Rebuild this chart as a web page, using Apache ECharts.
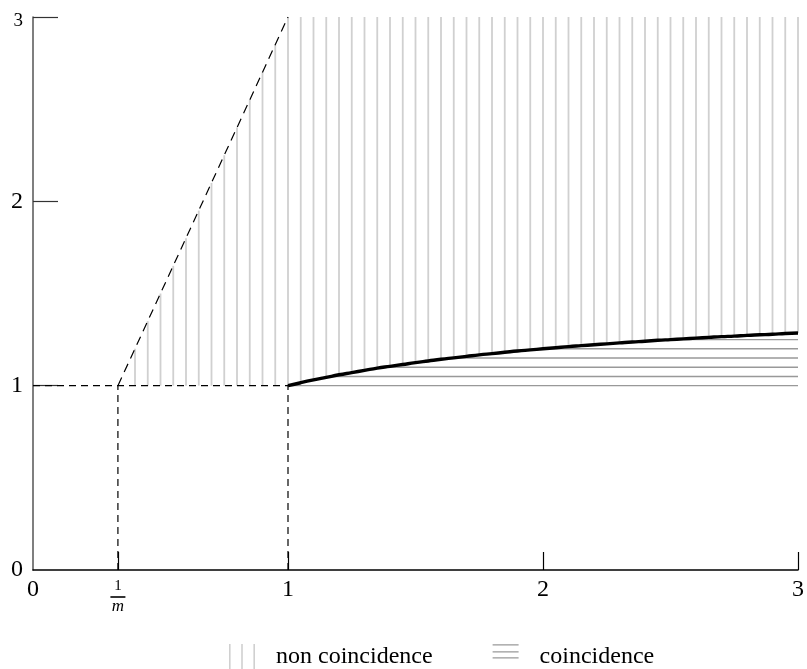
<!DOCTYPE html>
<html>
<head>
<meta charset="utf-8">
<script src="https://cdn.jsdelivr.net/npm/echarts@6/dist/echarts.min.js"></script>
<style>html,body{margin:0;padding:0;background:#fff}#c{width:807px;height:669px}</style>
</head>
<body>
<div id="c"></div>
<script>
// ---- data ----
const slopeX   = [0.40,0.45,0.50,0.55,0.60,0.65,0.70,0.75,0.80,0.85,0.90,0.95];
const slopeTop = [1.20,1.35,1.50,1.65,1.80,1.95,2.10,2.25,2.40,2.55,2.70,2.85];
const curveX = [1.00,1.05,1.10,1.15,1.20,1.25,1.30,1.35,1.40,1.45,1.50,1.55,1.60,1.65,1.70,1.75,1.80,1.85,1.90,1.95,2.00,
                2.05,2.10,2.15,2.20,2.25,2.30,2.35,2.40,2.45,2.50,2.55,2.60,2.65,2.70,2.75,2.80,2.85,2.90,2.95,3.00];
const curveY = [1.000,1.016,1.031,1.045,1.059,1.071,1.083,1.095,1.105,1.115,1.125,1.134,1.143,1.151,1.159,1.167,1.174,1.181,1.188,1.194,1.200,
                1.206,1.212,1.217,1.222,1.227,1.232,1.237,1.241,1.246,1.250,1.254,1.258,1.262,1.266,1.269,1.273,1.276,1.279,1.283,1.286];
const topY = 3;
const coincY     = [1.00,1.05,1.10,1.15,1.20,1.25];
const coincStart = [1.000,1.167,1.375,1.643,2.000,2.500];
const coincEnd = 3;
const invM = 0.333;
const guideH    = [[0,1],[1,1]];
const guideV1   = [[invM,0],[invM,1]];
const guideV2   = [[1,0],[1,1]];
const guideDiag = [[invM,1],[1,3]];
const xTickVals  = [invM,1,2,3];
const xLabelVals = [0,invM,1,2,3];
const yTickVals  = [1,2,3];
const yLabelVals = [0,1,2,3];
const legendNames = ['non coincidence','coincidence'];

// ---- build series data ----
const hatchData = [];
slopeX.forEach((x,i)=>hatchData.push([x,1,slopeTop[i]]));
curveX.forEach((x,i)=>hatchData.push([x,curveY[i],topY]));
const coincData = coincY.map((y,i)=>[coincStart[i],coincEnd,y]);
const curveData = curveX.map((x,i)=>[x,curveY[i]]);

const FONT = '"Liberation Serif", "DejaVu Serif", serif';
const chart = echarts.init(document.getElementById('c'));

function guide(data, dash){
  return {type:'line', data:data, symbol:'none', silent:true, z:3,
          lineStyle:{color:'#000', width:1.2, type:dash}, animation:false};
}

chart.setOption({
  animation:false,
  backgroundColor:'#fff',
  grid:{left:33,right:8,top:17,bottom:99,containLabel:false},
  xAxis:{
    type:'value', min:0, max:3,
    splitLine:{show:false},
    axisLine:{show:true, onZero:false, lineStyle:{color:'#000',width:1.5}},
    axisTick:{show:true, inside:true, length:18, customValues:xTickVals, lineStyle:{color:'#000',width:1.2}},
    axisLabel:{
      show:true, customValues:xLabelVals, margin:8,
      fontFamily:FONT, fontSize:24, color:'#000',
      formatter:function(v){
        if (Math.abs(v-invM)<1e-6) return '{n|1}\n{bar|}\n{d|m}';
        return String(Math.round(v));
      },
      rich:{
        n:{fontFamily:FONT,fontSize:15,lineHeight:17,color:'#000',align:'center'},
        bar:{width:15,height:1.6,lineHeight:4,backgroundColor:'#000',align:'center'},
        d:{fontFamily:FONT,fontSize:17,fontStyle:'italic',lineHeight:16,color:'#000',align:'center'}
      }
    }
  },
  yAxis:{
    type:'value', min:0, max:3,
    splitLine:{show:false},
    axisLine:{show:true, onZero:false, lineStyle:{color:'#555',width:1.5}},
    axisTick:{show:true, inside:true, length:25, customValues:yTickVals, lineStyle:{color:'#333',width:1.2}},
    axisLabel:{
      show:true, customValues:yLabelVals, margin:10,
      fontFamily:FONT, fontSize:24, color:'#000',
      formatter:function(v){ return v===3 ? '{s|3}' : String(v); },
      rich:{ s:{fontFamily:FONT,fontSize:19,color:'#000',padding:[8,0,0,0]} }
    }
  },
  legend:{
    show:true, data:[
      {name:legendNames[0], icon:'path://M0,0h1.6v26h-1.6z M12.2,0h1.6v26h-1.6z M24.4,0h1.6v26h-1.6z'},
      {name:legendNames[1], icon:'path://M0,0.4h26v1.3h-26z M0,7.4h26v1.3h-26z M0,13.4h26v1.3h-26z M25.99,25.99h0.01v0.01h-0.01z'}
    ],
    left:224, top:639, orient:'horizontal',
    itemWidth:26, itemHeight:26, itemGap:60, selectedMode:false,
    textStyle:{fontFamily:FONT,fontSize:24,color:'#000',padding:[0,0,0,16]}
  },
  series:[
    {
      name:legendNames[0], type:'custom', z:1, silent:true,
      itemStyle:{color:'#d0d0d0'},
      encode:{x:0,y:[1,2]},
      data:hatchData,
      renderItem:function(params,api){
        const p0 = api.coord([api.value(0),api.value(1)]);
        const p1 = api.coord([api.value(0),api.value(2)]);
        return {type:'line', shape:{x1:p0[0],y1:p0[1],x2:p1[0],y2:p1[1]},
                style:{stroke:'#d0d0d0',lineWidth:1.8}};
      }
    },
    {
      name:legendNames[1], type:'custom', z:2, silent:true,
      itemStyle:{color:'#999'},
      encode:{x:[0,1],y:2},
      data:coincData,
      renderItem:function(params,api){
        const p0 = api.coord([api.value(0),api.value(2)]);
        const p1 = api.coord([api.value(1),api.value(2)]);
        return {type:'line', shape:{x1:p0[0],y1:p0[1],x2:p1[0],y2:p1[1]},
                style:{stroke:'#999',lineWidth:1.4}};
      }
    },
    guide(guideH,[7,5]), guide(guideV1,[7,5]), guide(guideV2,[7,5]), guide(guideDiag,[9,6]),
    {
      type:'line', data:curveData, symbol:'none', smooth:true, silent:true, z:5,
      lineStyle:{color:'#000',width:3.4}
    }
  ]
});
</script>
</body>
</html>
